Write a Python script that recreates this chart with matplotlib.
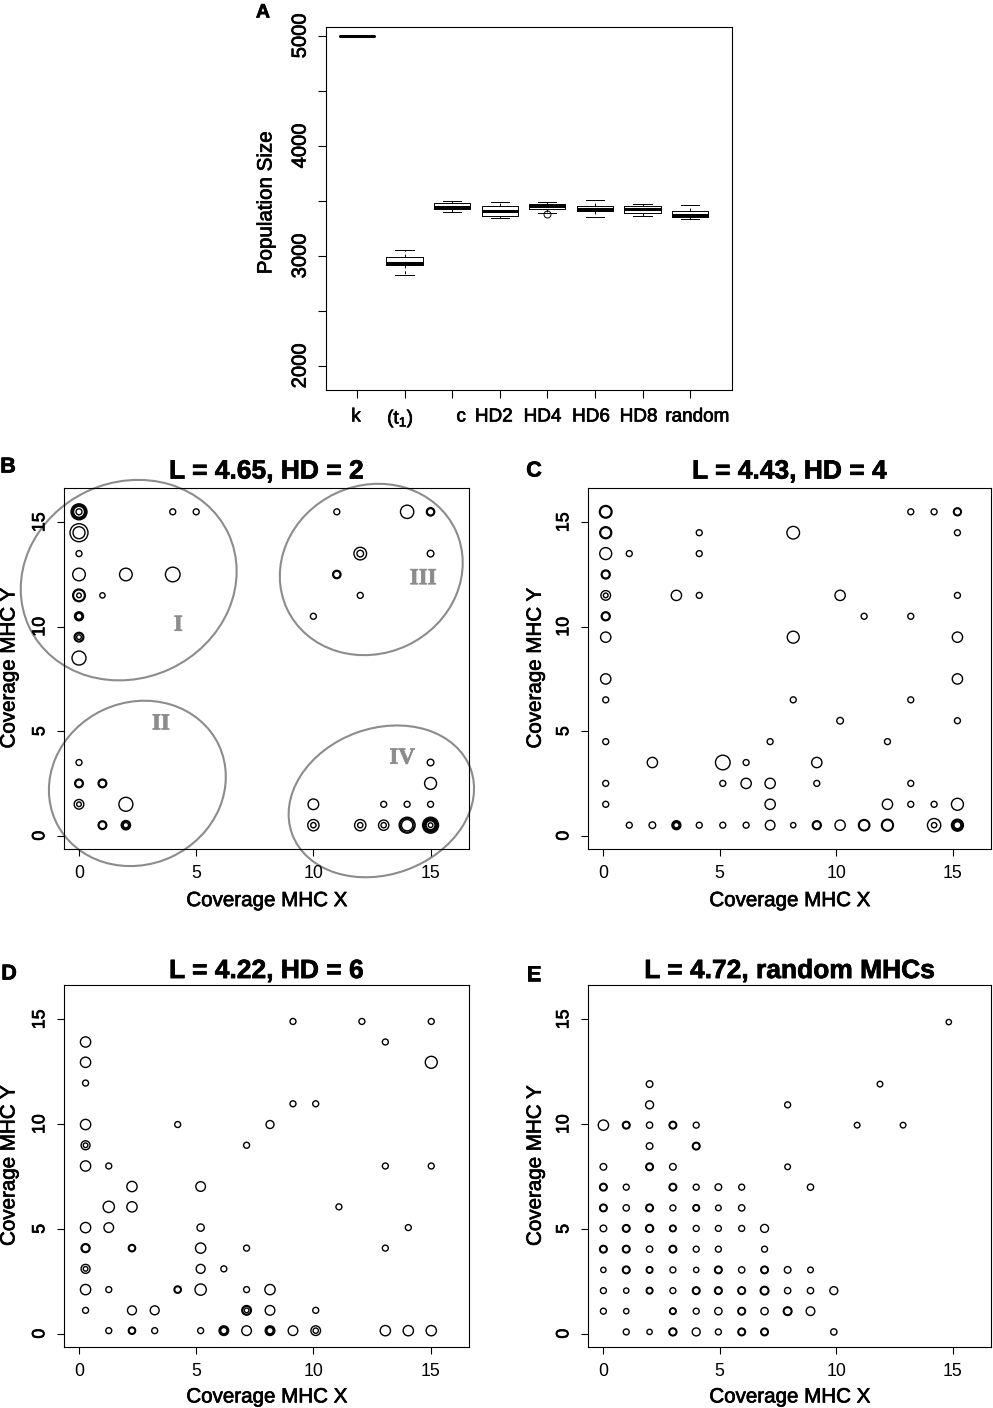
import matplotlib
matplotlib.use('Agg')
import matplotlib.pyplot as plt
import matplotlib.transforms as mtransforms
import matplotlib.patheffects as pe
from matplotlib.patches import Ellipse
from matplotlib.text import Text

plt.rcParams['font.family'] = ['Liberation Sans', 'DejaVu Sans']
plt.rcParams['mathtext.fontset'] = 'custom'
plt.rcParams['mathtext.rm'] = 'Liberation Sans'
plt.rcParams['mathtext.it'] = 'Liberation Sans'

W, H = 993, 1408

# ---------------- panel A: population size per scenario ----------------
groups = ['k', '(t$_1$)', 'c', 'HD2', 'HD4', 'HD6', 'HD8', 'random']
whislo = [5000, 2825, 3399, 3350, 3390, 3353, 3365, 3335]
q1 = [5000, 2916, 3426, 3368, 3432, 3405, 3393, 3353]
med = [5000, 2938, 3450, 3405, 3453, 3429, 3426, 3377]
q3 = [5000, 2995, 3480, 3456, 3474, 3453, 3453, 3405]
whishi = [5000, 3059, 3502, 3487, 3493, 3511, 3474, 3468]
fliers = [[], [], [], [], [3381], [], [], []]

# ---------------- panels B-E: coverage of MHC X vs MHC Y ----------------
# point = (column index, row index, [cex of overplotted symbols])
B_x = [0, 1, 2, 3, 4, 5, 6, 7, 8, 9, 10, 11, 12, 13, 14, 15]
B_y = [0.5, 1.5, 2.5, 3.5, 4.5, 5.5, 6.5, 7.5, 8.5, 9.5, 10.5, 11.5, 12.5, 13.5, 14.5, 15.5]
B_pts = [
    (0, 15, [2.5, 2.25, 2.0, 1.75, 1.0]), (0, 14, [2.8, 1.9]), (0, 13, [1.0]),
    (0, 12, [2.0]), (0, 11, [2.0, 1.75, 0.8]), (0, 10, [1.45, 1.2, 1.0]),
    (0, 9, [1.55, 1.3, 0.8]), (0, 8, [2.2]), (1, 11, [0.9]), (2, 12, [2.0]),
    (4, 12, [2.3]), (4, 15, [1.0]), (5, 15, [1.0]),
    (11, 15, [1.0]), (14, 15, [2.1]), (15, 15, [1.35, 1.1]), (12, 13, [2.0, 1.1]),
    (15, 13, [1.1]), (11, 12, [1.35, 1.1]), (12, 11, [1.0]), (10, 10, [1.0]),
    (0, 3, [1.0]), (0, 2, [1.4, 1.15]), (1, 2, [1.4, 1.15]), (0, 1, [1.55, 0.8]),
    (2, 1, [2.2]), (1, 0, [1.4, 1.15]), (2, 0, [1.5, 1.25, 0.9]),
    (15, 3, [1.1]), (15, 2, [1.9]), (10, 1, [1.7]), (13, 1, [1.0]), (14, 1, [1.0]),
    (15, 1, [1.0]), (10, 0, [1.8, 0.9]), (12, 0, [1.8, 0.9]), (13, 0, [1.65, 0.9]),
    (14, 0, [2.5, 2.2, 1.8]), (15, 0, [2.5, 2.2, 1.95, 1.7, 1.45, 0.8]),
]

C_x = [0.12, 1.13, 2.12, 3.15, 4.13, 5.14, 6.14, 7.17, 8.16, 9.17, 10.17, 11.2, 12.2, 13.2, 14.2, 15.2]
C_y = [0.5, 1.5, 2.5, 3.5, 4.5, 5.5, 6.5, 7.5, 8.5, 9.5, 10.5, 11.5, 12.5, 13.5, 14.5, 15.5]
C_pts = [
    (0, 15, [2.0, 1.75]), (0, 14, [1.9, 1.65]), (0, 13, [1.9]), (0, 12, [1.45, 1.2]),
    (0, 11, [1.55, 0.8]), (0, 10, [1.45, 1.2]), (0, 9, [1.65]), (0, 7, [1.65]),
    (0, 6, [1.0]), (0, 4, [1.0]), (0, 2, [1.0]), (0, 1, [1.0]),
    (1, 13, [1.0]), (1, 0, [1.0]),
    (2, 3, [1.65]), (2, 0, [1.1]),
    (3, 11, [1.65]), (3, 0, [1.45, 1.2, 0.9]),
    (4, 14, [1.0]), (4, 13, [1.0]), (4, 11, [1.0]), (4, 0, [1.0]),
    (5, 3, [2.3]), (5, 2, [1.0]), (5, 0, [1.0]),
    (6, 3, [1.0]), (6, 2, [1.65]), (6, 0, [1.0]),
    (7, 4, [1.0]), (7, 2, [1.65]), (7, 1, [1.65]), (7, 0, [1.55]),
    (8, 14, [2.0]), (8, 9, [1.9]), (8, 6, [1.0]), (8, 0, [0.9]),
    (9, 3, [1.65]), (9, 2, [1.0]), (9, 0, [1.45, 1.2]),
    (10, 11, [1.65]), (10, 5, [1.1]), (10, 0, [1.65]),
    (11, 10, [1.0]), (11, 0, [1.8, 1.6]),
    (12, 4, [1.0]), (12, 1, [1.65]), (12, 0, [1.9, 1.7]),
    (13, 15, [1.0]), (13, 10, [1.0]), (13, 6, [1.0]), (13, 2, [1.0]), (13, 1, [1.0]),
    (14, 15, [1.0]), (14, 1, [1.0]), (14, 0, [2.1, 0.9]),
    (15, 15, [1.3, 1.1]), (15, 14, [1.0]), (15, 11, [1.0]), (15, 9, [1.65]),
    (15, 7, [1.65]), (15, 5, [1.0]), (15, 1, [1.9]), (15, 0, [1.9, 1.65, 1.4, 1.15]),
]

D_x = [0.28, 1.27, 2.26, 3.23, 4.21, 5.19, 6.18, 7.15, 8.15, 9.13, 10.1, 11.09, 12.07, 13.07, 14.05, 15.03]
D_y = [0.14, 1.11, 2.1, 3.09, 4.08, 5.06, 6.05, 7.02, 8.0, 8.99, 9.98, 10.97, 11.96, 12.95, 13.92, 14.9]
D_pts = [
    (0, 14, [1.65]), (0, 13, [1.65]), (0, 12, [1.0]), (0, 10, [1.65]), (0, 9, [1.45, 0.8]),
    (0, 8, [1.65]), (0, 5, [1.65]), (0, 4, [1.45, 1.2]), (0, 3, [1.45, 0.8]),
    (0, 2, [1.65]), (0, 1, [1.0]),
    (1, 8, [1.0]), (1, 6, [1.8]), (1, 5, [1.55]), (1, 2, [1.0]), (1, 0, [1.0]),
    (2, 7, [1.65]), (2, 6, [1.65]), (2, 4, [1.2, 1.0]), (2, 1, [1.45]), (2, 0, [1.2, 1.0]),
    (3, 1, [1.45]), (3, 0, [1.0]),
    (4, 10, [1.0]), (4, 2, [1.2, 1.0]),
    (5, 7, [1.55]), (5, 5, [1.2]), (5, 4, [1.65]), (5, 3, [1.45]), (5, 2, [1.8]), (5, 0, [1.0]),
    (6, 3, [1.0]), (6, 0, [1.55, 1.3, 1.05]),
    (7, 9, [1.0]), (7, 4, [1.0]), (7, 2, [1.0]), (7, 1, [1.55, 1.3, 0.8]), (7, 0, [1.55]),
    (8, 10, [1.3]), (8, 2, [1.65]), (8, 1, [1.55]), (8, 0, [1.55, 1.3, 1.05]),
    (9, 15, [1.0]), (9, 11, [1.0]), (9, 0, [1.55]),
    (10, 11, [1.0]), (10, 1, [1.0]), (10, 0, [1.55, 0.9]),
    (11, 6, [1.0]), (12, 15, [1.0]),
    (13, 14, [1.0]), (13, 8, [1.0]), (13, 4, [1.0]), (13, 0, [1.65]),
    (14, 5, [1.0]), (14, 0, [1.65]),
    (15, 15, [1.0]), (15, 13, [1.9]), (15, 8, [1.0]), (15, 0, [1.65]),
]

E_x = [0.02, 1.0, 2.0, 3.0, 4.0, 4.95, 5.95, 6.93, 7.92, 8.9, 9.9, 10.9, 11.88, 12.87, 13.86, 14.83]
E_y = [0.08, 1.07, 2.05, 3.04, 4.03, 5.02, 6.0, 6.99, 7.96, 8.95, 9.95, 10.92, 11.91, 12.9, 13.88, 14.87]
E_pts = [
    (0, 10, [1.65]), (0, 8, [1.1]), (0, 7, [1.25, 1.05]), (0, 6, [1.25, 1.05]), (0, 5, [1.1]),
    (0, 4, [1.25, 1.05]), (0, 3, [0.9]), (0, 2, [1.0]), (0, 1, [1.0]),
    (1, 10, [1.25, 1.05]), (1, 7, [1.0]), (1, 6, [1.05]), (1, 5, [1.25, 1.05]),
    (1, 4, [1.25, 1.05]), (1, 3, [1.25, 1.05]), (1, 2, [0.9]), (1, 1, [0.9]), (1, 0, [1.0]),
    (2, 12, [1.1]), (2, 11, [1.3]), (2, 10, [1.05]), (2, 9, [1.1]), (2, 8, [1.25, 1.05]),
    (2, 6, [1.25, 1.05]), (2, 5, [1.3, 1.1]), (2, 4, [1.05]), (2, 3, [1.1, 0.95]),
    (2, 2, [1.1, 0.95]), (2, 0, [0.9]),
    (3, 10, [1.25, 1.05]), (3, 8, [1.1]), (3, 7, [1.25, 1.05]), (3, 6, [1.0]),
    (3, 5, [1.1, 0.95]), (3, 4, [1.25, 1.05]), (3, 3, [1.0]), (3, 2, [1.0]),
    (3, 1, [1.1, 0.95]), (3, 0, [1.3, 1.1]),
    (4, 10, [1.0]), (4, 9, [1.25, 1.05]), (4, 7, [1.0]), (4, 6, [1.1, 0.95]), (4, 5, [1.0]),
    (4, 4, [1.0]), (4, 3, [0.9]), (4, 2, [1.25, 1.05]), (4, 1, [1.0]), (4, 0, [1.3]),
    (5, 7, [1.1]), (5, 6, [0.95]), (5, 5, [1.0]), (5, 4, [1.0]), (5, 3, [1.25, 1.05]),
    (5, 2, [1.25, 1.05]), (5, 1, [1.2]), (5, 0, [1.0]),
    (6, 7, [1.0]), (6, 6, [1.05]), (6, 5, [1.0]), (6, 3, [1.05]), (6, 2, [1.25, 1.1]),
    (6, 1, [1.25, 1.1]), (6, 0, [1.25, 1.05]),
    (7, 5, [1.3]), (7, 4, [1.0]), (7, 3, [1.25, 1.05]), (7, 2, [1.4, 1.2]), (7, 1, [1.2]),
    (7, 0, [1.25, 1.05]),
    (8, 11, [1.0]), (8, 8, [0.95]), (8, 3, [1.1]), (8, 2, [1.05]), (8, 1, [1.4, 1.2]),
    (9, 7, [1.05]), (9, 3, [0.95]), (9, 2, [1.05]), (9, 1, [1.4]),
    (10, 2, [1.3]), (10, 0, [1.05]),
    (11, 10, [0.95]), (12, 12, [0.95]), (13, 10, [0.95]), (15, 15, [0.9]),
]

panels = [
    ('B', 'L = 4.65, HD = 2', B_x, B_y, B_pts, (64, 488, 469, 849)),
    ('C', 'L = 4.43, HD = 4', C_x, C_y, C_pts, (588, 488, 991, 849)),
    ('D', 'L = 4.22, HD = 6', D_x, D_y, D_pts, (64, 985, 469, 1347)),
    ('E', 'L = 4.72, random MHCs', E_x, E_y, E_pts, (588, 985, 991, 1347)),
]

# hand-drawn cluster ellipses of panel B: centre (data), size (inch), angle
clusters = [
    ('I', (2.12, 12.23), 2.20, 1.96, 25, (4.24, 10.07)),
    ('II', (2.49, 2.50), 1.80, 1.62, 25, (3.50, 5.35)),
    ('III', (12.47, 12.74), 1.86, 1.68, 25, (14.69, 12.30)),
    ('IV', (12.90, 1.64), 1.90, 1.46, 20, (13.79, 3.71)),
]


def add_axes_px(fig, left, top, right, bottom):
    return fig.add_axes([left / W, 1 - bottom / H, (right - left) / W, (bottom - top) / H])


fig = plt.figure(figsize=(W / 100, H / 100), dpi=100)

# ---------------- panel A ----------------
axA = add_axes_px(fig, 326, 27, 732, 390)
stats = []
for i in range(len(groups)):
    stats.append(dict(label=groups[i], whislo=whislo[i], q1=q1[i], med=med[i],
                      q3=q3[i], whishi=whishi[i], fliers=fliers[i]))
axA.bxp(stats, positions=range(1, len(groups) + 1), widths=0.76,
        boxprops=dict(color='black', linewidth=0.7),
        medianprops=dict(color='black', linewidth=2.2, solid_capstyle='butt'),
        whiskerprops=dict(color='black', linewidth=0.7, linestyle=(0, (3, 3))),
        capprops=dict(color='black', linewidth=0.7),
        flierprops=dict(marker='o', markerfacecolor='none', markeredgecolor='black',
                        markersize=5, markeredgewidth=0.7))
axA.set_xlim(0.35, 8.88)
axA.set_ylim(1782, 5082)
axA.set_yticks([2000, 2500, 3000, 3500, 4000, 4500, 5000])
axA.set_yticklabels(['2000', '', '3000', '', '4000', '', '5000'])
axA.tick_params(axis='y', labelrotation=90, labelsize=14.5, length=5.8, width=0.8, pad=6)
axA.tick_params(axis='x', labelsize=13.6, length=5.8, width=0.8, pad=7.5)
for lab in axA.get_yticklabels():
    lab.set_va('center')
# the category names sit slightly off their ticks in the original
label_shift_px = [-1, -4, 9, -6, -5, -4, -4, 7]
for lab, dx in zip(axA.get_xticklabels(), label_shift_px):
    lab.set_transform(lab.get_transform()
                      + mtransforms.ScaledTranslation(dx / 100, 0, fig.dpi_scale_trans))
axA.set_ylabel('Population Size', fontsize=14.8)
axA.yaxis.set_label_coords(-0.148, 0.515)
axA.yaxis.label.set_va('center')
for sp in axA.spines.values():
    sp.set_linewidth(0.8)
fig.text(263 / W, 1 - 13 / H, 'A', fontsize=14, fontweight='bold', ha='center', va='center')

# ---------------- panels B-E ----------------
letter_pos = {'B': (8, 467), 'C': (534, 471), 'D': (9, 974), 'E': (534, 975)}
for letter, title, xcol, ycol, pts, box in panels:
    ax = add_axes_px(fig, *box)
    xs, ys, cs = [], [], []
    for i, j, cex in pts:
        for c in cex:
            xs.append(xcol[i])
            ys.append(ycol[j])
            cs.append(c)
    ax.scatter(xs, ys, s=[(4.8 * c - 0.5) ** 2 for c in cs], facecolors='none',
               edgecolors='black', linewidths=1.0)
    ax.set_xlim(-0.64, 16.64)
    ax.set_ylim(-0.64, 16.64)
    ax.set_xticks([0, 5, 10, 15])
    ax.set_yticks([0, 5, 10, 15])
    ax.tick_params(labelsize=12.8, length=4.8, width=0.8)
    ax.tick_params(axis='x', pad=7)
    ax.tick_params(axis='y', labelrotation=90, pad=6.5)
    for lab in ax.get_yticklabels():
        lab.set_va('center')
    for sp in ax.spines.values():
        sp.set_linewidth(0.8)
    top_row = box[1] < 700
    ax.set_title(title, fontsize=19, fontweight='bold', pad=6.8 if top_row else 5)
    ax.set_xlabel('Coverage MHC X', fontsize=14.8)
    ax.set_ylabel('Coverage MHC Y', fontsize=14.8)
    ax.xaxis.set_label_coords(0.5, -0.143 if top_row else -0.138)
    ax.xaxis.label.set_va('center')
    ax.yaxis.set_label_coords(-0.136 if box[0] < 300 else -0.131, 0.5)
    ax.yaxis.label.set_va('center')
    lx, ly = letter_pos[letter]
    fig.text(lx / W, 1 - ly / H, letter, fontsize=15.5, fontweight='bold',
             ha='center', va='center')

    if letter == 'B':
        for name, (cx, cy), w, h, ang, (tx, ty) in clusters:
            tr = fig.dpi_scale_trans + mtransforms.ScaledTranslation(cx, cy, ax.transData)
            ax.add_patch(Ellipse((0, 0), w, h, angle=ang, transform=tr, fill=False,
                                 edgecolor='#8c8c8c', linewidth=1.5, clip_on=False))
            ax.text(tx, ty, name, fontfamily='Liberation Serif', fontweight='bold',
                    fontsize=16.5, color='#8c8c8c', ha='center', va='center')

# the scanned figure renders its text rather heavy
for t in fig.findobj(Text):
    if t.get_text():
        t.set_path_effects([pe.withStroke(linewidth=0.5, foreground=t.get_color())])

fig.savefig('out.png', dpi=100)
